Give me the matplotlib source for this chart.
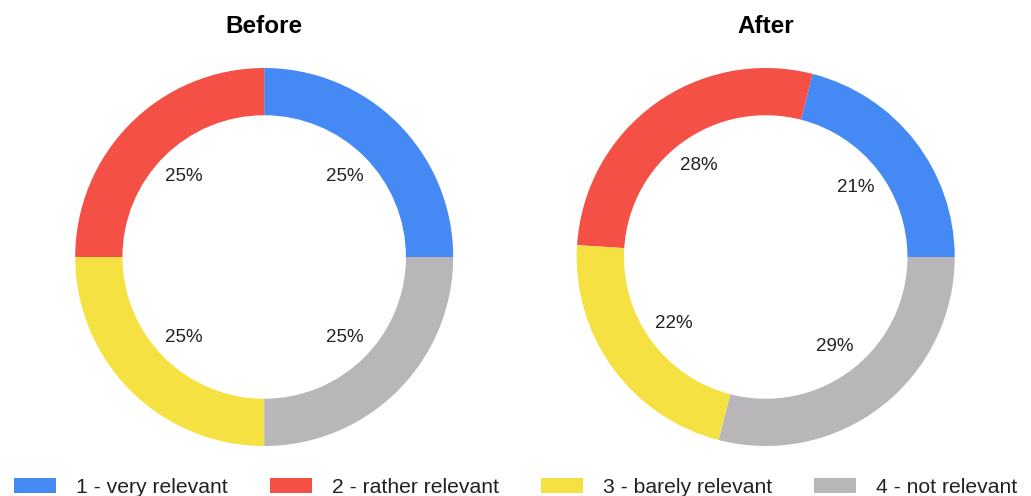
import matplotlib
matplotlib.use("Agg")
import matplotlib.pyplot as plt
from matplotlib.patches import Patch

plt.rcParams['font.family'] = ['Liberation Sans', 'DejaVu Sans']

categories = ["1 - very relevant", "2 - rather relevant", "3 - barely relevant", "4 - not relevant"]
before = [25, 25, 25, 25]
after = [21, 28, 22, 29]
titles = ["Before", "After"]
colors = ["#4589F5", "#F55045", "#F5E242", "#B8B6B9"]

W, H = 1031, 496
fig = plt.figure(figsize=(W / 100, H / 100), dpi=100)

R = 189
centers = [(264.2, 257.0), (765.7, 257.0)]

for (cx, cy), values, title in zip(centers, [before, after], titles):
    ax = fig.add_axes([(cx - R) / W, (H - cy - R) / H, 2 * R / W, 2 * R / H])
    ax.pie(values, colors=colors, startangle=0, counterclock=True,
           autopct='%1.0f%%', pctdistance=0.6,
           wedgeprops=dict(width=0.25, linewidth=0),
           textprops=dict(fontsize=13.5, color='#222222'))
    ax.set_xlim(-1, 1)
    ax.set_ylim(-1, 1)
    ax.set_aspect('equal')
    ax.axis('off')
    fig.text(cx / W, (H - 33) / H, title, ha='center', va='baseline',
             fontsize=17.5, fontweight='bold', color='#000000')

handles = [Patch(facecolor=c, edgecolor='none') for c in colors]
fs = 15.2
px = fs * 100 / 72
fig.legend(handles, categories, loc='lower center', bbox_to_anchor=(0.5, -0.026),
           ncol=4, frameon=False, fontsize=fs, borderpad=0.05,
           handlelength=42 / px, handleheight=15 / px,
           handletextpad=20 / px, columnspacing=42 / px,
           labelcolor='#222222')

fig.savefig("out.png", dpi=100)
